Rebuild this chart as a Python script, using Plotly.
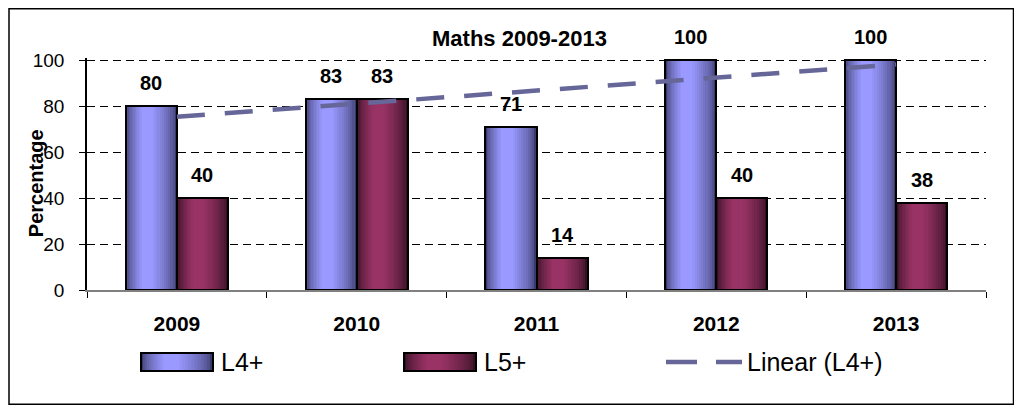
import numpy as np
import plotly.graph_objects as go

# ---- data ----
years = ["2009", "2010", "2011", "2012", "2013"]
l4_values = [80, 83, 71, 100, 100]
l5_values = [40, 83, 14, 40, 38]
series_names = ["L4+", "L5+", "Linear (L4+)"]
chart_title = "Maths 2009-2013"
y_title = "Percentage"
y_ticks = [0, 20, 40, 60, 80, 100]
y_max = 101  # slightly above 100 so that the 100 gridline is drawn

# linear trend of L4+
xi = np.arange(1, len(l4_values) + 1)
slope, intercept = np.polyfit(xi, l4_values, 1)
trend = list(slope * xi + intercept)

# ---- layout geometry (page has an 8px body margin) ----
OFF = 8
W, H = 1022 - 2 * OFF, 413 - 2 * OFF
SCALE = 2.3                                # pixels per percentage point
PL, PR, PB = 87, 986, 290                  # plot area in screen pixels
PT = PB - y_max * SCALE
L, R, T, B = PL - OFF, W - (PR - OFF), PT - OFF, H - (PB - OFF)
PW, PH = PR - PL, PB - PT
FONT = "Liberation Sans, Arial, sans-serif"


def px(x):
    return (x - PL) / PW


def py(y):
    return (PB - y) / PH


def lerp(c1, c2, t):
    return "rgb(%d,%d,%d)" % tuple(round(a + (b - a) * t) for a, b in zip(c1, c2))


L4_DARK, L4_LIGHT = (58, 58, 105), (153, 153, 255)
L5_DARK, L5_LIGHT = (52, 16, 34), (153, 51, 102)

BW = 0.284  # bar width in category units
N = 12
PEAK = 0.4

fig = go.Figure()


def layered(values, name, start, dark, light):
    for k in range(N):
        f = 0.85 * k / N
        left = PEAK * f * BW
        right = BW - (1 - PEAK) * f * BW
        t = (k / (N - 1)) ** 0.6
        fig.add_trace(go.Bar(
            x=years, y=values, name=name, showlegend=False,
            offset=start + left, width=right - left,
            marker=dict(color=lerp(dark, light, t), line=dict(width=0)),
            hoverinfo="skip",
        ))
    fig.add_trace(go.Bar(
        x=years, y=values, name=name, showlegend=False,
        offset=start, width=BW,
        marker=dict(color="rgba(0,0,0,0)", line=dict(color="black", width=2)),
    ))


layered(l4_values, series_names[0], -BW, L4_DARK, L4_LIGHT)
layered(l5_values, series_names[1], 0.0, L5_DARK, L5_LIGHT)

fig.add_trace(go.Scatter(
    x=years, y=trend, mode="lines", name=series_names[2], showlegend=False,
    line=dict(color="#666699", width=4.5, dash="28px,20px"),
))

annotations = []
# data labels (x given as category index)
for i, v in enumerate(l4_values):
    annotations.append(dict(x=i - BW / 2, y=v, xref="x", yref="y", text="<b>%d</b>" % v,
                            showarrow=False, xanchor="center", yanchor="middle", yshift=23,
                            font=dict(family=FONT, size=20, color="black")))
for i, v in enumerate(l5_values):
    annotations.append(dict(x=i + BW / 2, y=v, xref="x", yref="y", text="<b>%d</b>" % v,
                            showarrow=False, xanchor="center", yanchor="middle", yshift=23,
                            font=dict(family=FONT, size=20, color="black")))

# title
annotations.append(dict(x=px(519), y=py(38), xref="paper", yref="paper",
                        xanchor="center", yanchor="middle",
                        text="<b>%s</b>" % chart_title, showarrow=False,
                        font=dict(family=FONT, size=22, color="black")))
# y title
annotations.append(dict(x=px(36), y=py(183), xref="paper", yref="paper",
                        xanchor="center", yanchor="middle",
                        text="<b>%s</b>" % y_title, showarrow=False, textangle=-90,
                        font=dict(family=FONT, size=20, color="black")))

shapes = []
# outer border
shapes.append(dict(type="rect", xref="paper", yref="paper",
                   x0=px(9), x1=px(1013.5), y0=py(404.5), y1=py(8.5),
                   line=dict(color="black", width=1.5), fillcolor="rgba(0,0,0,0)",
                   layer="below"))


def swatch(x0, x1, y0, y1, dark, light):
    w = x1 - x0
    for k in range(N):
        f = 0.85 * k / N
        left = x0 + PEAK * f * w
        right = x1 - (1 - PEAK) * f * w
        t = (k / (N - 1)) ** 0.6
        shapes.append(dict(type="rect", xref="paper", yref="paper",
                           x0=px(left), x1=px(right), y0=py(y1), y1=py(y0),
                           fillcolor=lerp(dark, light, t), line=dict(width=0)))
    shapes.append(dict(type="rect", xref="paper", yref="paper",
                       x0=px(x0), x1=px(x1), y0=py(y1), y1=py(y0),
                       fillcolor="rgba(0,0,0,0)", line=dict(color="black", width=2)))


swatch(141, 213, 353, 371, L4_DARK, L4_LIGHT)
swatch(404, 476, 353, 371, L5_DARK, L5_LIGHT)
shapes.append(dict(type="line", xref="paper", yref="paper",
                   x0=px(666), x1=px(742), y0=py(362), y1=py(362),
                   line=dict(color="#666699", width=4.5, dash="31px,19px")))

for name, xpos in zip(series_names, [219, 482, 745]):
    annotations.append(dict(x=px(xpos), y=py(362), xref="paper", yref="paper",
                            xanchor="left", yanchor="middle", text=name, showarrow=False,
                            font=dict(family=FONT, size=25, color="black")))

fig.update_layout(
    width=W, height=H,
    margin=dict(l=L, r=R, t=T, b=B, pad=0),
    paper_bgcolor="white", plot_bgcolor="white",
    barmode="overlay", bargap=0,
    showlegend=False,
    annotations=annotations, shapes=shapes,
    xaxis=dict(type="category", showgrid=False, tickson="boundaries",
               ticks="outside", ticklen=6, tickcolor="black", tickwidth=1,
               showline=True, linecolor="#808080", linewidth=1.5,
               tickfont=dict(family=FONT, size=21, color="black", weight="bold"),
               ticklabelstandoff=14,
               range=[-0.5, len(years) - 0.5], zeroline=False),
    yaxis=dict(range=[0, y_max], tickvals=y_ticks, showgrid=True,
               gridcolor="black", griddash="8px,5px", gridwidth=1,
               ticks="outside", ticklen=6, tickcolor="black",
               showline=True, linecolor="black", linewidth=1.5,
               tickfont=dict(family=FONT, size=19, color="black"),
               ticklabelstandoff=11, zeroline=False),
)

fig.write_html("out.html")
